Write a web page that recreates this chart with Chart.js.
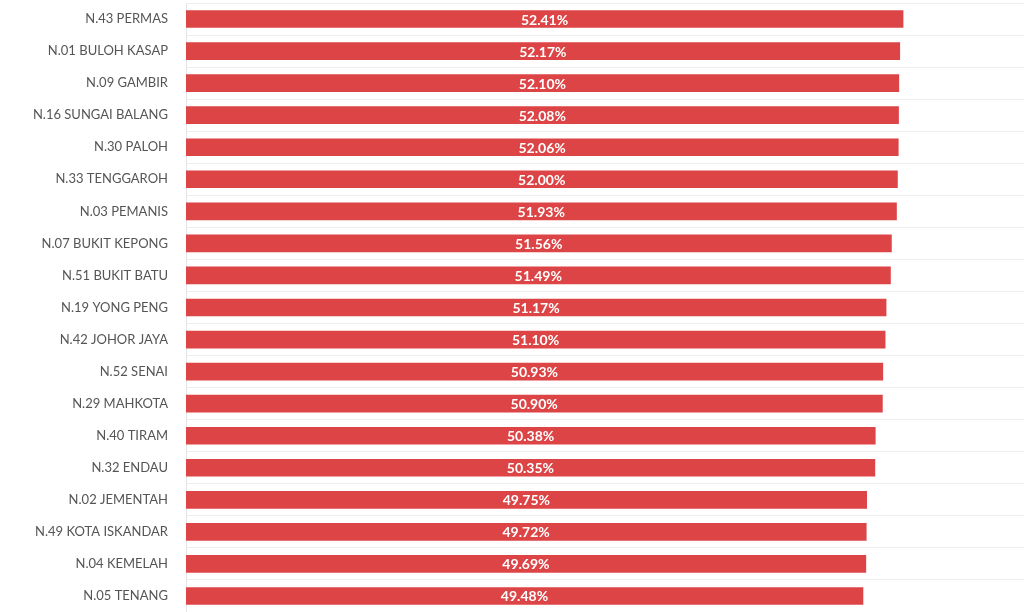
<!DOCTYPE html>
<html>
<head>
<meta charset="utf-8">
<script src="https://cdn.jsdelivr.net/npm/chart.js@4.4.1/dist/chart.umd.min.js"></script>
<style>
  html, body { margin: 0; padding: 0; background: #fff; overflow: hidden; }
  #wrap { width: 1024px; height: 612px; }
</style>
</head>
<body>
<div id="wrap"><canvas id="chart" width="1024" height="612"></canvas></div>
<script>
const seats = [
  "N.43 PERMAS", "N.01 BULOH KASAP", "N.09 GAMBIR", "N.16 SUNGAI BALANG",
  "N.30 PALOH", "N.33 TENGGAROH", "N.03 PEMANIS", "N.07 BUKIT KEPONG",
  "N.51 BUKIT BATU", "N.19 YONG PENG", "N.42 JOHOR JAYA", "N.52 SENAI",
  "N.29 MAHKOTA", "N.40 TIRAM", "N.32 ENDAU", "N.02 JEMENTAH",
  "N.49 KOTA ISKANDAR", "N.04 KEMELAH", "N.05 TENANG"
];
const percents = [
  52.41, 52.17, 52.10, 52.08, 52.06, 52.00, 51.93, 51.56, 51.49, 51.17,
  51.10, 50.93, 50.90, 50.38, 50.35, 49.75, 49.72, 49.69, 49.48
];

// white % labels in the middle of each bar
const barLabels = {
  id: "barLabels",
  afterDatasetsDraw(chart) {
    const ctx = chart.ctx;
    const meta = chart.getDatasetMeta(0);
    ctx.save();
    ctx.fillStyle = "#ffffff";
    ctx.font = "bold 14px Lato";
    ctx.textAlign = "center";
    ctx.textBaseline = "middle";
    meta.data.forEach((bar, i) => {
      const cx = (bar.x + bar.base) / 2;
      ctx.fillText(percents[i].toFixed(2) + "%", cx, bar.y + 1);
    });
    ctx.restore();
  }
};

new Chart(document.getElementById("chart").getContext("2d"), {
  type: "bar",
  data: {
    labels: seats,
    datasets: [{
      data: percents,
      backgroundColor: "#dd4446",
      borderWidth: 0,
      barThickness: 17
    }]
  },
  options: {
    indexAxis: "y",
    responsive: false,
    animation: false,
    devicePixelRatio: 1,
    layout: { padding: { top: 3, right: 0, bottom: 0, left: 0 } },
    plugins: {
      legend: { display: false },
      tooltip: { enabled: false }
    },
    scales: {
      x: {
        display: false,
        min: 0,
        max: 61.25
      },
      y: {
        afterFit(scale) {
          scale.width = 186;
          scale.paddingTop = 0;
          scale.paddingBottom = 0;
        },
        grid: { color: "#eeeeee", drawTicks: false, offset: true },
        border: { color: "#e4e4e4" },
        ticks: {
          color: "#555555",
          padding: 18,
          font: { family: "Lato", size: 13 }
        }
      }
    }
  },
  plugins: [barLabels]
});
</script>
</body>
</html>
